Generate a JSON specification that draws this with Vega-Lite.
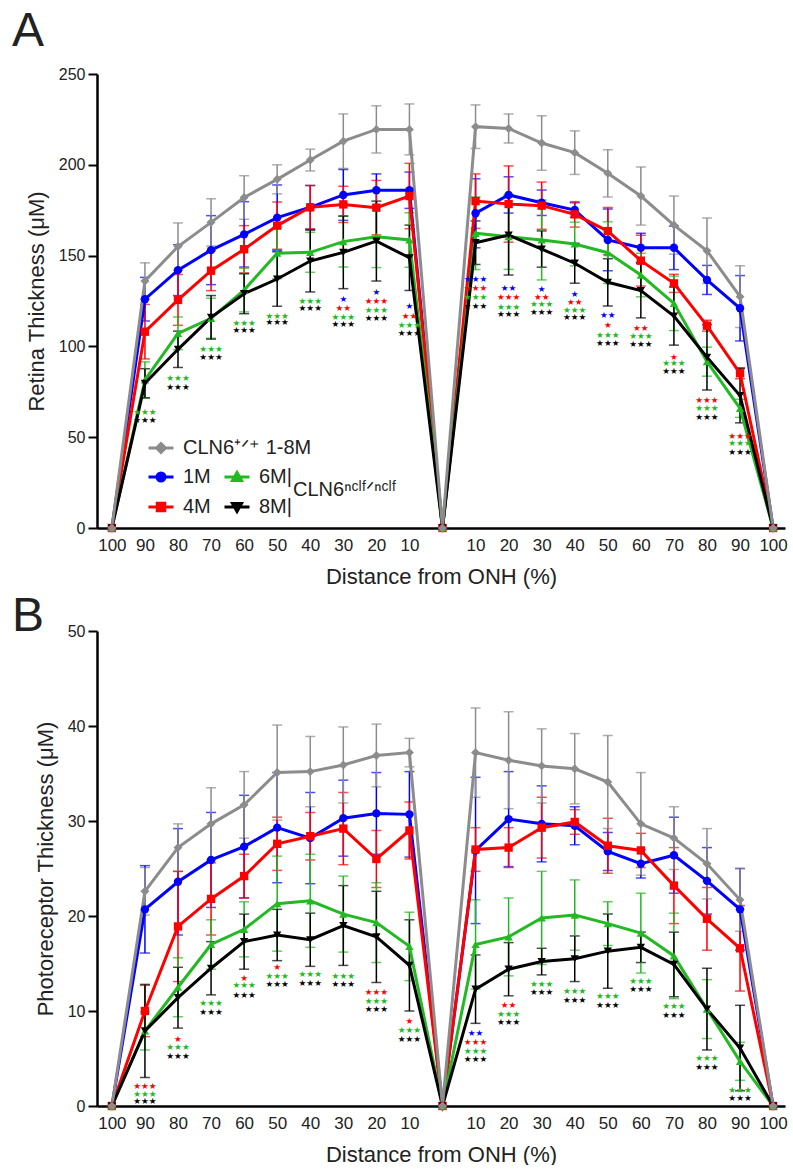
{
  "$schema": "https://vega.github.io/schema/vega-lite/v6.json",
  "background": "white",
  "padding": {"left": 12, "top": 8, "right": 8, "bottom": 0},
  "spacing": 6,
  "config": {
    "font": "Liberation Sans",
    "view": {"stroke": null},
    "axis": {"domainColor": "#000", "domainWidth": 2.5, "tickColor": "#000", "tickWidth": 2, "labelColor": "#222", "titleColor": "#222", "labelFont": "Liberation Sans", "titleFont": "Liberation Sans", "titleFontWeight": "normal", "grid": false, "labelFontSize": 16, "titleFontSize": 22},
    "title": {"font": "Liberation Sans", "fontSize": 48, "fontWeight": "normal", "color": "#222", "anchor": "start", "frame": "group"}
  },
  "resolve": {"scale": {"color": "independent", "stroke": "independent"}, "legend": {"color": "independent", "stroke": "independent"}},
  "datasets": {
    "A": [
      {"g":"1M","d":-100,"v":0,"e":0},{"g":"1M","d":-90,"v":126,"e":12},{"g":"1M","d":-80,"v":142,"e":14},{"g":"1M","d":-70,"v":153,"e":19},{"g":"1M","d":-60,"v":161.7,"e":18},{"g":"1M","d":-50,"v":170.9,"e":18},{"g":"1M","d":-40,"v":176.6,"e":12},{"g":"1M","d":-30,"v":183.4,"e":14},{"g":"1M","d":-20,"v":186,"e":9},{"g":"1M","d":-10,"v":186,"e":10},{"g":"1M","d":0,"v":0,"e":0},{"g":"1M","d":10,"v":173.3,"e":19},{"g":"1M","d":20,"v":183.4,"e":10},{"g":"1M","d":30,"v":179.1,"e":7},{"g":"1M","d":40,"v":175.1,"e":4},{"g":"1M","d":50,"v":158.6,"e":17},{"g":"1M","d":60,"v":154.3,"e":8},{"g":"1M","d":70,"v":154.3,"e":12},{"g":"1M","d":80,"v":136.6,"e":8},{"g":"1M","d":90,"v":121,"e":18},{"g":"1M","d":100,"v":0,"e":0},
      {"g":"4M","d":-100,"v":0,"e":0},{"g":"4M","d":-90,"v":108.1,"e":15},{"g":"4M","d":-80,"v":125.6,"e":14},{"g":"4M","d":-70,"v":141.7,"e":11},{"g":"4M","d":-60,"v":153.5,"e":13},{"g":"4M","d":-50,"v":166.5,"e":13},{"g":"4M","d":-40,"v":176.6,"e":12},{"g":"4M","d":-30,"v":178.2,"e":10},{"g":"4M","d":-20,"v":176.4,"e":15},{"g":"4M","d":-10,"v":182.8,"e":18},{"g":"4M","d":0,"v":0,"e":0},{"g":"4M","d":10,"v":180,"e":15},{"g":"4M","d":20,"v":178.4,"e":21},{"g":"4M","d":30,"v":177.5,"e":13},{"g":"4M","d":40,"v":172.7,"e":7},{"g":"4M","d":50,"v":163.5,"e":13},{"g":"4M","d":60,"v":147.2,"e":14},{"g":"4M","d":70,"v":134.7,"e":5},{"g":"4M","d":80,"v":111.4,"e":3},{"g":"4M","d":90,"v":85.2,"e":3},{"g":"4M","d":100,"v":0,"e":0},
      {"g":"6M","d":-100,"v":0,"e":0},{"g":"6M","d":-90,"v":81.5,"e":10},{"g":"6M","d":-80,"v":107.2,"e":9},{"g":"6M","d":-70,"v":115.5,"e":11},{"g":"6M","d":-60,"v":131,"e":12},{"g":"6M","d":-50,"v":151.3,"e":14},{"g":"6M","d":-40,"v":151.8,"e":11},{"g":"6M","d":-30,"v":157.7,"e":14},{"g":"6M","d":-20,"v":160.4,"e":17},{"g":"6M","d":-10,"v":158.6,"e":15},{"g":"6M","d":0,"v":0,"e":0},{"g":"6M","d":10,"v":162.3,"e":20},{"g":"6M","d":20,"v":160.4,"e":18},{"g":"6M","d":30,"v":158.6,"e":22},{"g":"6M","d":40,"v":156.4,"e":12},{"g":"6M","d":50,"v":151.6,"e":17},{"g":"6M","d":60,"v":139.3,"e":12},{"g":"6M","d":70,"v":123.7,"e":15},{"g":"6M","d":80,"v":91.6,"e":8},{"g":"6M","d":90,"v":65.9,"e":5},{"g":"6M","d":100,"v":0,"e":0},
      {"g":"8M","d":-100,"v":0,"e":0},{"g":"8M","d":-90,"v":79.7,"e":8},{"g":"8M","d":-80,"v":98.4,"e":10},{"g":"8M","d":-70,"v":116,"e":12},{"g":"8M","d":-60,"v":129,"e":11},{"g":"8M","d":-50,"v":137.1,"e":15},{"g":"8M","d":-40,"v":147,"e":17},{"g":"8M","d":-30,"v":151.8,"e":20},{"g":"8M","d":-20,"v":158,"e":22},{"g":"8M","d":-10,"v":148.8,"e":18},{"g":"8M","d":0,"v":0,"e":0},{"g":"8M","d":10,"v":157.1,"e":12},{"g":"8M","d":20,"v":161.3,"e":22},{"g":"8M","d":30,"v":153.6,"e":10},{"g":"8M","d":40,"v":145.8,"e":11},{"g":"8M","d":50,"v":135.3,"e":13},{"g":"8M","d":60,"v":130.7,"e":15},{"g":"8M","d":70,"v":116.7,"e":16},{"g":"8M","d":80,"v":94,"e":18},{"g":"8M","d":90,"v":72.9,"e":15},{"g":"8M","d":100,"v":0,"e":0},
      {"g":"CLN6+/+","d":-100,"v":0,"e":0},{"g":"CLN6+/+","d":-90,"v":136,"e":10},{"g":"CLN6+/+","d":-80,"v":155,"e":13},{"g":"CLN6+/+","d":-70,"v":168.3,"e":13},{"g":"CLN6+/+","d":-60,"v":182,"e":12},{"g":"CLN6+/+","d":-50,"v":192,"e":8},{"g":"CLN6+/+","d":-40,"v":202.6,"e":6},{"g":"CLN6+/+","d":-30,"v":213,"e":15},{"g":"CLN6+/+","d":-20,"v":219.5,"e":13},{"g":"CLN6+/+","d":-10,"v":219.5,"e":14},{"g":"CLN6+/+","d":0,"v":0,"e":0},{"g":"CLN6+/+","d":10,"v":221,"e":12},{"g":"CLN6+/+","d":20,"v":220,"e":8},{"g":"CLN6+/+","d":30,"v":212,"e":15},{"g":"CLN6+/+","d":40,"v":206.7,"e":12},{"g":"CLN6+/+","d":50,"v":195.3,"e":13},{"g":"CLN6+/+","d":60,"v":182.8,"e":16},{"g":"CLN6+/+","d":70,"v":166.8,"e":16},{"g":"CLN6+/+","d":80,"v":152.7,"e":18},{"g":"CLN6+/+","d":90,"v":127.4,"e":17},{"g":"CLN6+/+","d":100,"v":0,"e":0}
    ],
    "B": [
      {"g":"1M","d":-100,"v":0,"e":0},{"g":"1M","d":-90,"v":20.7,"e":4.6},{"g":"1M","d":-80,"v":23.6,"e":5.6},{"g":"1M","d":-70,"v":25.9,"e":5},{"g":"1M","d":-60,"v":27.3,"e":5.4},{"g":"1M","d":-50,"v":29.3,"e":5.8},{"g":"1M","d":-40,"v":28.2,"e":4.8},{"g":"1M","d":-30,"v":30.3,"e":4},{"g":"1M","d":-20,"v":30.8,"e":4.3},{"g":"1M","d":-10,"v":30.7,"e":4.5},{"g":"1M","d":0,"v":0,"e":0},{"g":"1M","d":10,"v":26.9,"e":7.7},{"g":"1M","d":20,"v":30.2,"e":5},{"g":"1M","d":30,"v":29.7,"e":4},{"g":"1M","d":40,"v":29.5,"e":2},{"g":"1M","d":50,"v":26.8,"e":2},{"g":"1M","d":60,"v":25.5,"e":1.5},{"g":"1M","d":70,"v":26.4,"e":4},{"g":"1M","d":80,"v":23.7,"e":3.5},{"g":"1M","d":90,"v":20.7,"e":4.3},{"g":"1M","d":100,"v":0,"e":0},
      {"g":"4M","d":-100,"v":0,"e":0},{"g":"4M","d":-90,"v":10,"e":2.7},{"g":"4M","d":-80,"v":18.9,"e":5.8},{"g":"4M","d":-70,"v":21.8,"e":3.8},{"g":"4M","d":-60,"v":24.2,"e":2.3},{"g":"4M","d":-50,"v":27.6,"e":2.8},{"g":"4M","d":-40,"v":28.4,"e":2.5},{"g":"4M","d":-30,"v":29.2,"e":3.8},{"g":"4M","d":-20,"v":26,"e":3},{"g":"4M","d":-10,"v":29,"e":3},{"g":"4M","d":0,"v":0,"e":0},{"g":"4M","d":10,"v":27,"e":2.3},{"g":"4M","d":20,"v":27.2,"e":2.1},{"g":"4M","d":30,"v":29.3,"e":3.2},{"g":"4M","d":40,"v":29.9,"e":1.3},{"g":"4M","d":50,"v":27.4,"e":2.9},{"g":"4M","d":60,"v":26.9,"e":1.8},{"g":"4M","d":70,"v":23.2,"e":4},{"g":"4M","d":80,"v":19.7,"e":3.3},{"g":"4M","d":90,"v":16.6,"e":4.5},{"g":"4M","d":100,"v":0,"e":0},
      {"g":"6M","d":-100,"v":0,"e":0},{"g":"6M","d":-90,"v":7.9,"e":2},{"g":"6M","d":-80,"v":12.5,"e":3.1},{"g":"6M","d":-70,"v":17,"e":2.6},{"g":"6M","d":-60,"v":18.6,"e":2.9},{"g":"6M","d":-50,"v":21.3,"e":5},{"g":"6M","d":-40,"v":21.6,"e":4.9},{"g":"6M","d":-30,"v":20.2,"e":4},{"g":"6M","d":-20,"v":19.3,"e":4.2},{"g":"6M","d":-10,"v":16.8,"e":3.6},{"g":"6M","d":0,"v":0,"e":0},{"g":"6M","d":10,"v":17,"e":4.7},{"g":"6M","d":20,"v":17.8,"e":4.1},{"g":"6M","d":30,"v":19.8,"e":4.9},{"g":"6M","d":40,"v":20.1,"e":3.7},{"g":"6M","d":50,"v":19.2,"e":2.3},{"g":"6M","d":60,"v":18.2,"e":4.2},{"g":"6M","d":70,"v":15.8,"e":4.5},{"g":"6M","d":80,"v":10.2,"e":3.1},{"g":"6M","d":90,"v":4.7,"e":2},{"g":"6M","d":100,"v":0,"e":0},
      {"g":"8M","d":-100,"v":0,"e":0},{"g":"8M","d":-90,"v":7.9,"e":4.9},{"g":"8M","d":-80,"v":11.4,"e":3.2},{"g":"8M","d":-70,"v":14.5,"e":2.8},{"g":"8M","d":-60,"v":17.3,"e":2.9},{"g":"8M","d":-50,"v":18,"e":2.7},{"g":"8M","d":-40,"v":17.5,"e":2.8},{"g":"8M","d":-30,"v":19,"e":4.2},{"g":"8M","d":-20,"v":17.8,"e":4.8},{"g":"8M","d":-10,"v":14.8,"e":4.8},{"g":"8M","d":0,"v":0,"e":0},{"g":"8M","d":10,"v":12.3,"e":3.6},{"g":"8M","d":20,"v":14.4,"e":2.8},{"g":"8M","d":30,"v":15.2,"e":1.4},{"g":"8M","d":40,"v":15.5,"e":2.4},{"g":"8M","d":50,"v":16.3,"e":3.9},{"g":"8M","d":60,"v":16.7,"e":1.6},{"g":"8M","d":70,"v":14.9,"e":3.4},{"g":"8M","d":80,"v":10.2,"e":4.3},{"g":"8M","d":90,"v":6.1,"e":4.5},{"g":"8M","d":100,"v":0,"e":0},
      {"g":"CLN6+/+","d":-100,"v":0,"e":0},{"g":"CLN6+/+","d":-90,"v":22.6,"e":2.5},{"g":"CLN6+/+","d":-80,"v":27.2,"e":2.5},{"g":"CLN6+/+","d":-70,"v":29.7,"e":3.8},{"g":"CLN6+/+","d":-60,"v":31.7,"e":3.5},{"g":"CLN6+/+","d":-50,"v":35.1,"e":5},{"g":"CLN6+/+","d":-40,"v":35.2,"e":3.7},{"g":"CLN6+/+","d":-30,"v":35.9,"e":4},{"g":"CLN6+/+","d":-20,"v":36.9,"e":3.3},{"g":"CLN6+/+","d":-10,"v":37.2,"e":1.5},{"g":"CLN6+/+","d":0,"v":0,"e":0},{"g":"CLN6+/+","d":10,"v":37.2,"e":4.7},{"g":"CLN6+/+","d":20,"v":36.4,"e":5.1},{"g":"CLN6+/+","d":30,"v":35.8,"e":3.9},{"g":"CLN6+/+","d":40,"v":35.5,"e":3.7},{"g":"CLN6+/+","d":50,"v":34.1,"e":4.9},{"g":"CLN6+/+","d":60,"v":29.7,"e":5.4},{"g":"CLN6+/+","d":70,"v":28.2,"e":3.3},{"g":"CLN6+/+","d":80,"v":25.5,"e":3.7},{"g":"CLN6+/+","d":90,"v":21.7,"e":3.3},{"g":"CLN6+/+","d":100,"v":0,"e":0}
    ],
    "SA": [
      {"g":"6M","d":-90,"v":64,"s":"★★★"},{"g":"8M","d":-90,"v":59.5,"s":"★★★"},
      {"g":"6M","d":-80,"v":82.8,"s":"★★★"},{"g":"8M","d":-80,"v":77.8,"s":"★★★"},
      {"g":"6M","d":-70,"v":98.6,"s":"★★★"},{"g":"8M","d":-70,"v":94.3,"s":"★★★"},
      {"g":"6M","d":-60,"v":113,"s":"★★★"},{"g":"8M","d":-60,"v":109,"s":"★★★"},
      {"g":"6M","d":-50,"v":116.9,"s":"★★★"},{"g":"8M","d":-50,"v":113.3,"s":"★★★"},
      {"g":"6M","d":-40,"v":125.2,"s":"★★★"},{"g":"8M","d":-40,"v":121,"s":"★★★"},
      {"g":"1M","d":-30,"v":126.1,"s":"★"},{"g":"4M","d":-30,"v":121,"s":"★★"},{"g":"6M","d":-30,"v":116.4,"s":"★★★"},{"g":"8M","d":-30,"v":112.2,"s":"★★★"},
      {"g":"1M","d":-20,"v":129.8,"s":"★"},{"g":"4M","d":-20,"v":125.2,"s":"★★★"},{"g":"6M","d":-20,"v":120,"s":"★★★"},{"g":"8M","d":-20,"v":115.5,"s":"★★★"},
      {"g":"1M","d":-10,"v":122.4,"s":"★"},{"g":"4M","d":-10,"v":116.9,"s":"★★"},{"g":"6M","d":-10,"v":111.8,"s":"★★★"},{"g":"8M","d":-10,"v":107.2,"s":"★★★"},
      {"g":"1M","d":10,"v":137,"s":"★★★"},{"g":"4M","d":10,"v":132,"s":"★★★"},{"g":"6M","d":10,"v":127,"s":"★★★"},{"g":"8M","d":10,"v":122.4,"s":"★★★"},
      {"g":"1M","d":20,"v":132,"s":"★★"},{"g":"4M","d":20,"v":127,"s":"★★★"},{"g":"6M","d":20,"v":121.9,"s":"★★★"},{"g":"8M","d":20,"v":117.8,"s":"★★★"},
      {"g":"1M","d":30,"v":131.6,"s":"★"},{"g":"4M","d":30,"v":127.4,"s":"★★"},{"g":"6M","d":30,"v":123.2,"s":"★★★"},{"g":"8M","d":30,"v":118.8,"s":"★★★"},
      {"g":"1M","d":40,"v":128.9,"s":"★"},{"g":"4M","d":40,"v":124.3,"s":"★★"},{"g":"6M","d":40,"v":120,"s":"★★★"},{"g":"8M","d":40,"v":116.4,"s":"★★★"},
      {"g":"1M","d":50,"v":117.3,"s":"★★"},{"g":"4M","d":50,"v":111.8,"s":"★"},{"g":"6M","d":50,"v":106.3,"s":"★★★"},{"g":"8M","d":50,"v":101.7,"s":"★★★"},
      {"g":"4M","d":60,"v":110.3,"s":"★★"},{"g":"6M","d":60,"v":105.7,"s":"★★★"},{"g":"8M","d":60,"v":101.2,"s":"★★★"},
      {"g":"4M","d":70,"v":94.3,"s":"★"},{"g":"6M","d":70,"v":90.7,"s":"★★★"},{"g":"8M","d":70,"v":86.6,"s":"★★★"},
      {"g":"4M","d":80,"v":70.5,"s":"★★★"},{"g":"6M","d":80,"v":65.9,"s":"★★★"},{"g":"8M","d":80,"v":61.3,"s":"★★★"},
      {"g":"4M","d":90,"v":50.8,"s":"★★★"},{"g":"6M","d":90,"v":46.6,"s":"★★★"},{"g":"8M","d":90,"v":42,"s":"★★★"}
    ],
    "SB": [
      {"g":"4M","d":-90,"v":2.1,"s":"★★★"},{"g":"6M","d":-90,"v":1.3,"s":"★★★"},{"g":"8M","d":-90,"v":0.5,"s":"★★★"},
      {"g":"4M","d":-80,"v":7.1,"s":"★"},{"g":"6M","d":-80,"v":6.2,"s":"★★★"},{"g":"8M","d":-80,"v":5.3,"s":"★★★"},
      {"g":"6M","d":-70,"v":10.8,"s":"★★★"},{"g":"8M","d":-70,"v":9.9,"s":"★★★"},
      {"g":"4M","d":-60,"v":13.5,"s":"★"},{"g":"6M","d":-60,"v":12.7,"s":"★★★"},{"g":"8M","d":-60,"v":11.7,"s":"★★★"},
      {"g":"4M","d":-50,"v":14.6,"s":"★"},{"g":"6M","d":-50,"v":13.7,"s":"★★★"},{"g":"8M","d":-50,"v":12.8,"s":"★★★"},
      {"g":"6M","d":-40,"v":13.9,"s":"★★★"},{"g":"8M","d":-40,"v":13,"s":"★★★"},
      {"g":"6M","d":-30,"v":13.7,"s":"★★★"},{"g":"8M","d":-30,"v":12.8,"s":"★★★"},
      {"g":"4M","d":-20,"v":12,"s":"★★★"},{"g":"6M","d":-20,"v":11.1,"s":"★★★"},{"g":"8M","d":-20,"v":10.2,"s":"★★★"},
      {"g":"4M","d":-10,"v":8.9,"s":"★"},{"g":"6M","d":-10,"v":8,"s":"★★★"},{"g":"8M","d":-10,"v":7.1,"s":"★★★"},
      {"g":"1M","d":10,"v":7.7,"s":"★★"},{"g":"4M","d":10,"v":6.7,"s":"★★★"},{"g":"6M","d":10,"v":5.8,"s":"★★★"},{"g":"8M","d":10,"v":4.9,"s":"★★★"},
      {"g":"4M","d":20,"v":10.6,"s":"★★"},{"g":"6M","d":20,"v":9.7,"s":"★★★"},{"g":"8M","d":20,"v":8.8,"s":"★★★"},
      {"g":"6M","d":30,"v":12.8,"s":"★★★"},{"g":"8M","d":30,"v":12,"s":"★★★"},
      {"g":"6M","d":40,"v":12.1,"s":"★★★"},{"g":"8M","d":40,"v":11.2,"s":"★★★"},
      {"g":"6M","d":50,"v":11.6,"s":"★★★"},{"g":"8M","d":50,"v":10.6,"s":"★★★"},
      {"g":"6M","d":60,"v":13.2,"s":"★★★"},{"g":"8M","d":60,"v":12.3,"s":"★★★"},
      {"g":"6M","d":70,"v":10.5,"s":"★★★"},{"g":"8M","d":70,"v":9.6,"s":"★★★"},
      {"g":"6M","d":80,"v":5.1,"s":"★★★"},{"g":"8M","d":80,"v":4.1,"s":"★★★"},
      {"g":"6M","d":90,"v":1.7,"s":"★★★"},{"g":"8M","d":90,"v":0.8,"s":"★★★"}
    ]
  },
  "vconcat": [
    {
      "width": 688, "height": 454,
      "title": {"text": "A", "dx": -85, "offset": -28, "baseline": "alphabetic"},
      "data": {"name": "A"},
      "encoding": {
        "x": {"field": "d", "type": "quantitative", "scale": {"domain": [-104.5, 103.6], "nice": false, "zero": false},
          "axis": {"values": [-100,-90,-80,-70,-60,-50,-40,-30,-20,-10,10,20,30,40,50,60,70,80,90,100], "labelExpr": "abs(datum.value)", "ticks": false, "labelPadding": 9, "labelFontSize": 17, "labelFlush": false, "title": "Distance from ONH (%)", "titlePadding": 13}},
        "y": {"field": "v", "type": "quantitative", "scale": {"domain": [0, 250], "nice": false},
          "axis": {"values": [0,50,100,150,200,250], "title": "Retina Thickness (μM)", "tickSize": 9, "labelPadding": 3, "titlePadding": 10, "labelFontSize": 16}},
        "color": {"field": "g", "type": "nominal", "scale": {"domain": ["1M","4M","6M","8M","CLN6+/+"], "range": ["#0000ff","#ff0000","#22b922","#000000","#8c8c8c"]},
          "legend": {
            "values": ["1M","4M","6M","8M"],
            "orient": "none", "legendX": 50, "legendY": 389,
            "columns": 2, "columnPadding": 7, "rowPadding": 6, "padding": 0,
            "title": "CLN6ⁿᶜˡᶠᐟⁿᶜˡᶠ", "titleOrient": "right", "titleAnchor": "middle", "titleBaseline": "middle", "titlePadding": 1,
            "titleFontSize": 20, "titleFontWeight": "normal", "titleFont": "Liberation Sans", "titleColor": "#222",
            "labelFontSize": 20, "labelFont": "Liberation Sans", "labelColor": "#222", "labelOffset": 8,
            "labelExpr": "(datum.label == '6M' || datum.label == '8M') ? datum.label + '|' : datum.label",
            "symbolSize": 625, "symbolStrokeWidth": 3, "symbolType": "M-1,0L1,0",
            "encode": {"symbols": {"update": {
              "shape": {"signal": "datum.value == '1M' ? 'M-1,0L1,0M0.32,0A0.32,0.32 0 1,1 -0.32,0A0.32,0.32 0 1,1 0.32,0Z' : datum.value == '4M' ? 'M-1,0L1,0M-0.3,-0.3H0.3V0.3H-0.3Z' : datum.value == '6M' ? 'M-1,0L1,0M0,-0.36L0.36,0.28L-0.36,0.28Z' : 'M-1,0L1,0M0,0.36L0.36,-0.28L-0.36,-0.28Z'"},
              "fill": {"signal": "datum.value == '1M' ? '#0000ff' : datum.value == '4M' ? '#ff0000' : datum.value == '6M' ? '#22b922' : '#000000'"},
              "stroke": {"signal": "datum.value == '1M' ? '#0000ff' : datum.value == '4M' ? '#ff0000' : datum.value == '6M' ? '#22b922' : '#000000'"},
              "strokeWidth": {"value": 3}, "size": {"value": 625}, "opacity": {"value": 1}
            }}}
          }}
      },
      "layer": [
        {
          "transform": [{"filter": "datum.e > 0"}],
          "mark": {"type": "errorbar", "ticks": true, "size": 10, "thickness": 1.5},
          "encoding": {"yError": {"field": "e"}}
        },
        {
          "transform": [{"filter": "datum.g != 'CLN6+/+'"}],
          "mark": {"type": "line", "strokeWidth": 3}
        },
        {
          "transform": [{"filter": "datum.g == 'CLN6+/+'"}],
          "mark": {"type": "line", "strokeWidth": 3},
          "encoding": {
            "color": null,
            "stroke": {"field": "g", "type": "nominal", "scale": {"domain": ["CLN6+/+"], "range": ["#8c8c8c"]},
              "legend": {
                "orient": "none", "legendX": 50, "legendY": 360, "title": null, "padding": 0,
                "labelFontSize": 20, "labelFont": "Liberation Sans", "labelColor": "#222", "labelOffset": 8,
                "labelExpr": "'CLN6⁺ᐟ⁺ 1-8M'",
                "symbolSize": 625, "symbolStrokeWidth": 3,
                "encode": {"symbols": {"update": {
                  "shape": {"value": "M-1,0L1,0M0,-0.36L0.36,0L0,0.36L-0.36,0Z"},
                  "fill": {"value": "#8c8c8c"}, "stroke": {"value": "#8c8c8c"},
                  "strokeWidth": {"value": 3}, "size": {"value": 625}, "opacity": {"value": 1}
                }}}
              }}
          }
        },
        {"transform": [{"filter": "datum.g == '1M'"}], "mark": {"type": "point", "shape": "circle", "filled": true, "size": 70, "opacity": 1}},
        {"transform": [{"filter": "datum.g == '4M'"}], "mark": {"type": "point", "shape": "square", "filled": true, "size": 70, "opacity": 1}},
        {"transform": [{"filter": "datum.g == '6M'"}], "mark": {"type": "point", "shape": "triangle-up", "filled": true, "size": 70, "opacity": 1}},
        {"transform": [{"filter": "datum.g == '8M'"}], "mark": {"type": "point", "shape": "triangle-down", "filled": true, "size": 70, "opacity": 1}},
        {"transform": [{"filter": "datum.g == 'CLN6+/+'"}], "mark": {"type": "point", "shape": "diamond", "filled": true, "size": 80, "opacity": 1}},
        {
          "data": {"name": "SA"},
          "mark": {"type": "text", "font": "DejaVu Sans", "fontSize": 8.7, "baseline": "middle", "align": "center"},
          "encoding": {"text": {"field": "s"}}
        }
      ]
    },
    {
      "width": 688, "height": 475,
      "title": {"text": "B", "dx": -85, "offset": -56, "baseline": "alphabetic"},
      "data": {"name": "B"},
      "encoding": {
        "x": {"field": "d", "type": "quantitative", "scale": {"domain": [-104.5, 103.6], "nice": false, "zero": false},
          "axis": {"values": [-100,-90,-80,-70,-60,-50,-40,-30,-20,-10,10,20,30,40,50,60,70,80,90,100], "labelExpr": "abs(datum.value)", "ticks": false, "labelPadding": 9, "labelFontSize": 17, "labelFlush": false, "title": "Distance from ONH (%)", "titlePadding": 13}},
        "y": {"field": "v", "type": "quantitative", "scale": {"domain": [0, 50], "nice": false},
          "axis": {"values": [0,10,20,30,40,50], "title": "Photoreceptor Thickness (μM)", "tickSize": 9, "labelPadding": 3, "titlePadding": 10, "labelFontSize": 16}},
        "color": {"field": "g", "type": "nominal", "scale": {"domain": ["1M","4M","6M","8M","CLN6+/+"], "range": ["#0000ff","#ff0000","#22b922","#000000","#8c8c8c"]}, "legend": null}
      },
      "layer": [
        {
          "transform": [{"filter": "datum.e > 0"}],
          "mark": {"type": "errorbar", "ticks": true, "size": 10, "thickness": 1.5},
          "encoding": {"yError": {"field": "e"}}
        },
        {
          "transform": [{"filter": "datum.g != 'CLN6+/+'"}],
          "mark": {"type": "line", "strokeWidth": 3}
        },
        {
          "transform": [{"filter": "datum.g == 'CLN6+/+'"}],
          "mark": {"type": "line", "strokeWidth": 3, "color": "#8c8c8c"},
          "encoding": {"color": null}
        },
        {"transform": [{"filter": "datum.g == '1M'"}], "mark": {"type": "point", "shape": "circle", "filled": true, "size": 70, "opacity": 1}},
        {"transform": [{"filter": "datum.g == '4M'"}], "mark": {"type": "point", "shape": "square", "filled": true, "size": 70, "opacity": 1}},
        {"transform": [{"filter": "datum.g == '6M'"}], "mark": {"type": "point", "shape": "triangle-up", "filled": true, "size": 70, "opacity": 1}},
        {"transform": [{"filter": "datum.g == '8M'"}], "mark": {"type": "point", "shape": "triangle-down", "filled": true, "size": 70, "opacity": 1}},
        {"transform": [{"filter": "datum.g == 'CLN6+/+'"}], "mark": {"type": "point", "shape": "diamond", "filled": true, "size": 80, "opacity": 1}},
        {
          "data": {"name": "SB"},
          "mark": {"type": "text", "font": "DejaVu Sans", "fontSize": 8.7, "baseline": "middle", "align": "center"},
          "encoding": {"text": {"field": "s"}}
        }
      ]
    }
  ]
}
